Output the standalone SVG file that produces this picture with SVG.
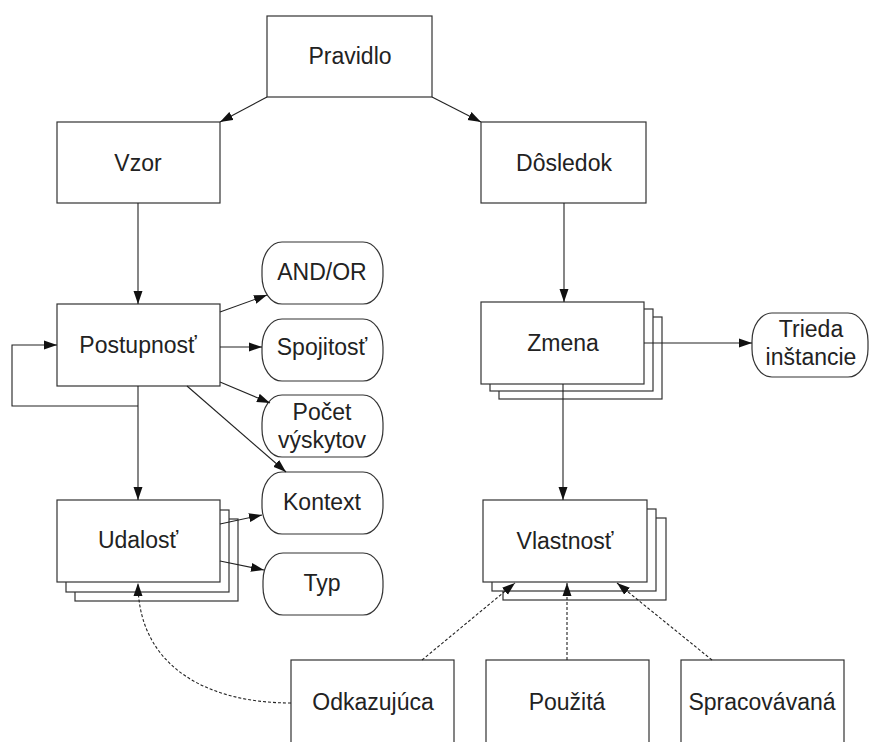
<svg xmlns="http://www.w3.org/2000/svg" width="869" height="742" viewBox="0 0 869 742">
  <style>
    .box { fill: #fff; stroke: #333; stroke-width: 1.2; }
    .pill { fill: #fff; stroke: #333; stroke-width: 1.2; }
    .lbl { font-family: "Liberation Sans", Arial, sans-serif; font-size: 23px; fill: #222; text-anchor: middle; }
    .edge { fill: none; stroke: #222; stroke-width: 1.1; marker-end: url(#arrow); }
    .dash { stroke-dasharray: 3 2; }
  </style>
  <defs>
    <marker id="arrow" markerUnits="userSpaceOnUse" markerWidth="14" markerHeight="10" refX="13" refY="5" orient="auto">
      <path d="M0,0.5 L13,5 L0,9.5 z" fill="#111"/>
    </marker>
  </defs>

  <!-- rule hierarchy: main boxes -->
  <g id="pravidlo">
    <rect class="box" x="267" y="16" width="165" height="81"/>
    <text class="lbl" x="350" y="64">Pravidlo</text>
  </g>
  <g id="vzor">
    <rect class="box" x="57" y="122" width="163" height="81"/>
    <text class="lbl" x="138" y="171">Vzor</text>
  </g>
  <g id="dosledok">
    <rect class="box" x="481" y="122" width="165" height="81"/>
    <text class="lbl" x="564" y="171">Dôsledok</text>
  </g>
  <g id="postupnost">
    <rect class="box" x="57" y="304" width="163" height="82"/>
    <text class="lbl" x="138" y="353">Postupnosť</text>
  </g>

  <!-- stacked boxes (multiple instances) -->
  <g id="udalost">
    <rect class="box" x="75" y="519" width="163" height="82"/>
    <rect class="box" x="66" y="510" width="163" height="82"/>
    <rect class="box" x="57" y="500" width="163" height="82"/>
    <text class="lbl" x="138" y="548">Udalosť</text>
  </g>
  <g id="zmena">
    <rect class="box" x="499" y="317" width="163" height="82"/>
    <rect class="box" x="490" y="309" width="163" height="82"/>
    <rect class="box" x="481" y="302" width="163" height="82"/>
    <text class="lbl" x="563" y="351">Zmena</text>
  </g>
  <g id="vlastnost">
    <rect class="box" x="503" y="518" width="163" height="82"/>
    <rect class="box" x="492" y="509" width="164" height="82"/>
    <rect class="box" x="483" y="500" width="164" height="82"/>
    <text class="lbl" x="565" y="549">Vlastnosť</text>
  </g>

  <!-- attribute pills -->
  <g id="andor">
    <rect class="pill" x="262" y="242" width="121" height="62" rx="20" ry="28"/>
    <text class="lbl" x="322" y="280">AND/OR</text>
  </g>
  <g id="spojitost">
    <rect class="pill" x="262" y="319" width="121" height="62" rx="20" ry="28"/>
    <text class="lbl" x="322" y="355">Spojitosť</text>
  </g>
  <g id="pocet">
    <rect class="pill" x="262" y="395" width="121" height="62" rx="20" ry="28"/>
    <text class="lbl" x="322" y="420">Počet</text>
    <text class="lbl" x="322" y="448">výskytov</text>
  </g>
  <g id="kontext">
    <rect class="pill" x="262" y="472" width="121" height="62" rx="20" ry="28"/>
    <text class="lbl" x="322" y="510">Kontext</text>
  </g>
  <g id="typ">
    <rect class="pill" x="263" y="553" width="120" height="62" rx="20" ry="28"/>
    <text class="lbl" x="322" y="591">Typ</text>
  </g>
  <g id="trieda">
    <rect class="pill" x="752" y="313" width="116" height="64" rx="20" ry="28"/>
    <text class="lbl" x="811" y="337">Trieda</text>
    <text class="lbl" x="811" y="365">inštancie</text>
  </g>

  <!-- property kinds (open at the bottom edge) -->
  <g id="odkazujuca">
    <rect class="box" x="291" y="660" width="163" height="100"/>
    <text class="lbl" x="373" y="710">Odkazujúca</text>
  </g>
  <g id="pouzita">
    <rect class="box" x="486" y="660" width="163" height="100"/>
    <text class="lbl" x="567" y="710">Použitá</text>
  </g>
  <g id="spracovavana">
    <rect class="box" x="681" y="660" width="163" height="100"/>
    <text class="lbl" x="762" y="710">Spracovávaná</text>
  </g>

  <!-- connectors -->
  <g id="connectors">
    <path class="edge" d="M267,97 L220,122"/>
    <path class="edge" d="M432,97 L481,122"/>
    <path class="edge" d="M138,203 L138,304"/>
    <path class="edge" d="M564,203 L564,302"/>
    <path class="edge" d="M138,386 L138,500"/>
    <path class="edge" d="M138,406 L12,406 L12,345 L57,345"/>
    <path class="edge" d="M220,312 L267,295"/>
    <path class="edge" d="M220,347 L262,347"/>
    <path class="edge" d="M220,382 L270,403"/>
    <path class="edge" d="M187,386 L286,472"/>
    <path class="edge" d="M220,524 L262,515"/>
    <path class="edge" d="M220,561 L264,570"/>
    <path class="edge" d="M644,343 L752,343"/>
    <path class="edge" d="M563,384 L563,500"/>
    <path class="edge dash" d="M422,660 L515,583"/>
    <path class="edge dash" d="M567,660 L567,583"/>
    <path class="edge dash" d="M712,660 L617,583"/>
    <path class="edge dash" d="M291,703 C205,703 138,665 138,583"/>
  </g>
</svg>
